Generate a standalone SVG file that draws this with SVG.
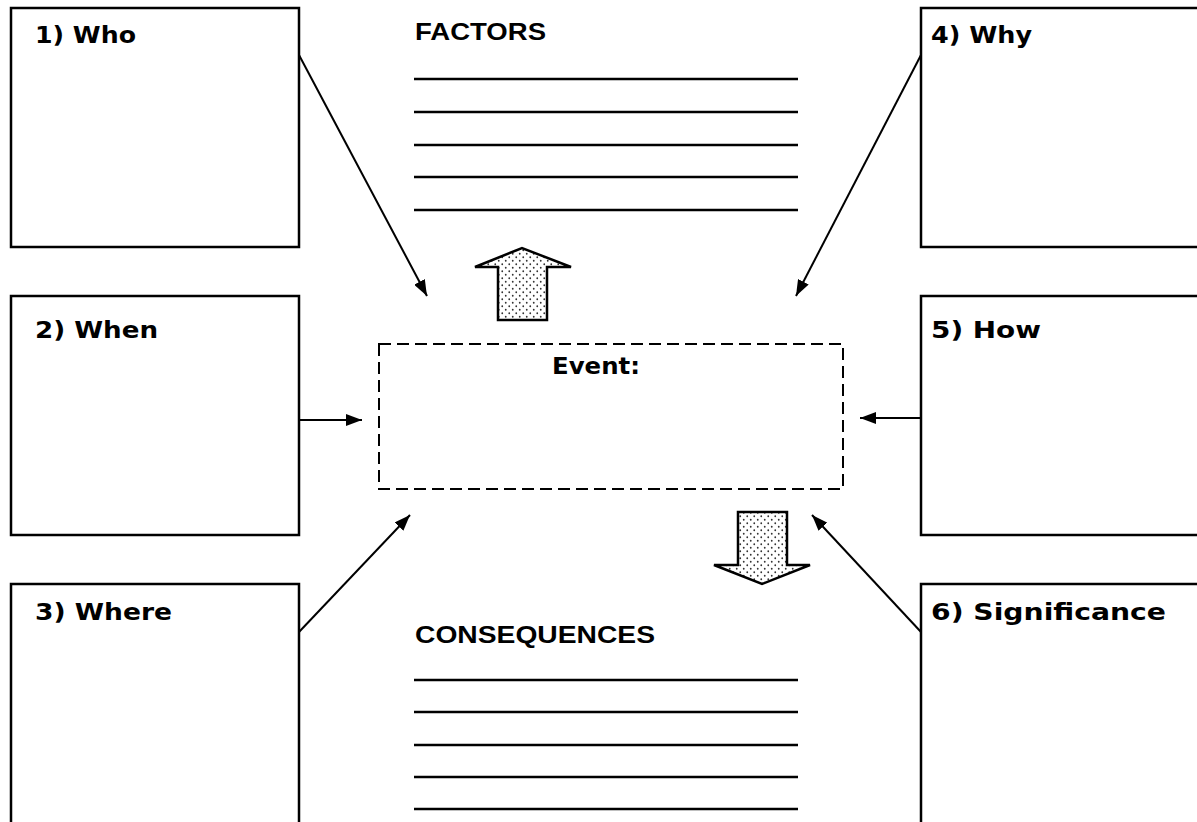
<svg xmlns="http://www.w3.org/2000/svg" width="1197" height="822" viewBox="0 0 1197 822">
<style>
.box{fill:#fff;stroke:#000;stroke-width:2.5}
.lbl{font-family:"DejaVu Sans",Verdana,sans-serif;font-weight:bold;font-size:23px;fill:#000}
.hd{font-family:"Liberation Sans",Arial,sans-serif;font-weight:bold;font-size:24px;fill:#000}
.rule{stroke:#000;stroke-width:2.5}
.con{stroke:#000;stroke-width:2;fill:none;marker-end:url(#ah)}
.blk{fill:url(#dots);stroke:#000;stroke-width:2.5}
</style>
<defs>
<marker id="ah" viewBox="0 0 16 12" refX="16" refY="6" markerWidth="16" markerHeight="12" markerUnits="userSpaceOnUse" orient="auto">
<path d="M0,0 L16,6 L0,12 z" fill="#000"/>
</marker>
<pattern id="dots" width="7" height="7" patternUnits="userSpaceOnUse">
<rect width="7" height="7" fill="#fff"/>
<circle cx="1.75" cy="1.75" r="0.9" fill="#333"/>
<circle cx="5.25" cy="5.25" r="0.9" fill="#333"/>
</pattern>
</defs>
<rect width="1197" height="822" fill="#fff"/>
<g id="who"><rect class="box" x="11" y="8" width="288" height="239"/><text class="lbl" x="35" y="43" textLength="101" lengthAdjust="spacingAndGlyphs">1) Who</text></g>
<g id="when"><rect class="box" x="11" y="296" width="288" height="239"/><text class="lbl" x="35" y="338" textLength="123" lengthAdjust="spacingAndGlyphs">2) When</text></g>
<g id="where"><rect class="box" x="11" y="584" width="288" height="250"/><text class="lbl" x="35" y="620" textLength="137" lengthAdjust="spacingAndGlyphs">3) Where</text></g>
<g id="why"><rect class="box" x="921" y="8" width="290" height="239"/><text class="lbl" x="931" y="43" textLength="101" lengthAdjust="spacingAndGlyphs">4) Why</text></g>
<g id="how"><rect class="box" x="921" y="296" width="290" height="239"/><text class="lbl" x="931" y="338" textLength="110" lengthAdjust="spacingAndGlyphs">5) How</text></g>
<g id="significance"><rect class="box" x="921" y="584" width="290" height="250"/><text class="lbl" x="931" y="620" textLength="235" lengthAdjust="spacingAndGlyphs">6) Significance</text></g>
<g id="factors"><text class="hd" x="415" y="40" textLength="131" lengthAdjust="spacingAndGlyphs">FACTORS</text>
<line class="rule" x1="414" y1="79" x2="798" y2="79"/><line class="rule" x1="414" y1="112" x2="798" y2="112"/><line class="rule" x1="414" y1="145" x2="798" y2="145"/><line class="rule" x1="414" y1="177" x2="798" y2="177"/><line class="rule" x1="414" y1="210" x2="798" y2="210"/></g>
<g id="consequences"><text class="hd" x="415" y="643" textLength="240" lengthAdjust="spacingAndGlyphs">CONSEQUENCES</text>
<line class="rule" x1="414" y1="680" x2="798" y2="680"/><line class="rule" x1="414" y1="712" x2="798" y2="712"/><line class="rule" x1="414" y1="745" x2="798" y2="745"/><line class="rule" x1="414" y1="777" x2="798" y2="777"/><line class="rule" x1="414" y1="809" x2="798" y2="809"/></g>
<g id="event"><rect x="379" y="344" width="464" height="145" fill="none" stroke="#000" stroke-width="2" stroke-dasharray="12,6"/><text class="lbl" x="552" y="374" textLength="88" lengthAdjust="spacingAndGlyphs">Event:</text></g>
<g id="up-arrow"><path class="blk" d="M498,320 L498,267 L475,267 L522,248 L571,267 L547,267 L547,320 Z"/></g>
<g id="down-arrow"><path class="blk" d="M738,512 L787,512 L787,565 L810,565 L762,584 L714,565 L738,565 Z"/></g>
<g id="connectors">
<line class="con" x1="299" y1="55" x2="427" y2="296"/>
<line class="con" x1="921" y1="55" x2="796" y2="296"/>
<line class="con" x1="299" y1="420" x2="362" y2="420"/>
<line class="con" x1="921" y1="418" x2="860" y2="418"/>
<line class="con" x1="299" y1="632" x2="410" y2="515"/>
<line class="con" x1="921" y1="632" x2="812" y2="515"/>
</g>
</svg>
